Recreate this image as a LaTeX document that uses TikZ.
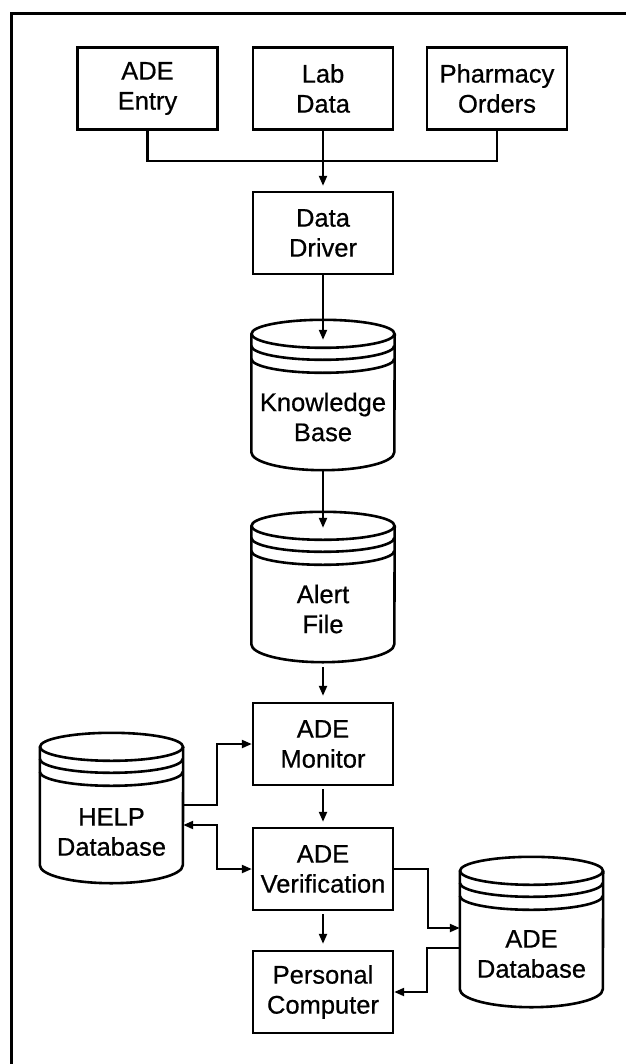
\documentclass[tikz,border=0pt]{standalone}
\usepackage{fontspec}
\setmainfont[FakeBold=0.6]{Liberation Sans}
\usetikzlibrary{arrows.meta}
\tikzset{
  unit/.style={draw=black,line width=2.4pt,minimum width=140pt,minimum height=82pt,inner sep=0pt,align=center},
  store/.style={minimum width=143pt,minimum height=150pt,inner sep=0pt},
  storelabel/.style={align=center,inner sep=0pt},
  drum/.style={draw=black,line width=2.6pt},
  wire/.style={line width=2.1pt},
  feed/.style={wire,-{Triangle[length=10pt,width=8pt]}},
  twoway/.style={wire,{Triangle[length=10pt,width=8pt]}-{Triangle[length=10pt,width=8pt]}}
}
\begin{document}
\begin{tikzpicture}[x=1pt,y=-1pt,font=\fontsize{25.5}{30}\selectfont,line join=miter]
\useasboundingbox (0,0) rectangle (626,1064);
\draw[line width=3.2pt] (11.5,1064) -- (11.5,13.5) -- (626,13.5);
% sources
\node[unit] (entry) at (147.5,88.5) {ADE\\Entry};
\node[unit] (lab) at (323,88.5) {Lab\\Data};
\node[unit] (pharm) at (497,88.5) {Pharmacy\\Orders};
\node[unit] (driver) at (323,233) {Data\\Driver};
\coordinate (junction) at (323,161);
\draw[wire] (entry.south) |- (junction) -| (pharm.south);
\draw[feed,shorten >=5pt] (lab.south) -- (driver.north);
% knowledge base
\node[store] (kbase) at (323,395) {};
\draw[drum] ([yshift=-14pt]kbase.north) ellipse [x radius=71.5pt,y radius=14pt];
\draw[drum] ([yshift=-14pt]kbase.north west) -- ([yshift=18pt]kbase.south west) arc [start angle=180,end angle=360,x radius=71.5pt,y radius=18pt] -- ([yshift=-14pt]kbase.north east);
\draw[drum] ([yshift=-26pt]kbase.north west) arc [start angle=180,end angle=360,x radius=71.5pt,y radius=14pt];
\draw[drum] ([yshift=-39pt]kbase.north west) arc [start angle=180,end angle=360,x radius=71.5pt,y radius=14pt];
\node[storelabel] (kbase-t) at ([yshift=-22pt]kbase.center) {Knowledge\\Base};
% alert file
\node[store] (alert) at (323,587) {};
\draw[drum] ([yshift=-14pt]alert.north) ellipse [x radius=71.5pt,y radius=14pt];
\draw[drum] ([yshift=-14pt]alert.north west) -- ([yshift=18pt]alert.south west) arc [start angle=180,end angle=360,x radius=71.5pt,y radius=18pt] -- ([yshift=-14pt]alert.north east);
\draw[drum] ([yshift=-26pt]alert.north west) arc [start angle=180,end angle=360,x radius=71.5pt,y radius=14pt];
\draw[drum] ([yshift=-39pt]alert.north west) arc [start angle=180,end angle=360,x radius=71.5pt,y radius=14pt];
\node[storelabel] (alert-t) at ([yshift=-22pt]alert.center) {Alert\\File};
% help database
\node[store] (helpdb) at (111.5,808) {};
\draw[drum] ([yshift=-14pt]helpdb.north) ellipse [x radius=71.5pt,y radius=14pt];
\draw[drum] ([yshift=-14pt]helpdb.north west) -- ([yshift=18pt]helpdb.south west) arc [start angle=180,end angle=360,x radius=71.5pt,y radius=18pt] -- ([yshift=-14pt]helpdb.north east);
\draw[drum] ([yshift=-26pt]helpdb.north west) arc [start angle=180,end angle=360,x radius=71.5pt,y radius=14pt];
\draw[drum] ([yshift=-39pt]helpdb.north west) arc [start angle=180,end angle=360,x radius=71.5pt,y radius=14pt];
\node[storelabel] (helpdb-t) at ([yshift=-24pt]helpdb.center) {HELP\\Database};
% ade database
\node[store] (adedb) at (531.5,932) {};
\draw[drum] ([yshift=-14pt]adedb.north) ellipse [x radius=71.5pt,y radius=14pt];
\draw[drum] ([yshift=-14pt]adedb.north west) -- ([yshift=18pt]adedb.south west) arc [start angle=180,end angle=360,x radius=71.5pt,y radius=18pt] -- ([yshift=-14pt]adedb.north east);
\draw[drum] ([yshift=-26pt]adedb.north west) arc [start angle=180,end angle=360,x radius=71.5pt,y radius=14pt];
\draw[drum] ([yshift=-39pt]adedb.north west) arc [start angle=180,end angle=360,x radius=71.5pt,y radius=14pt];
\node[storelabel] (adedb-t) at ([yshift=-22pt]adedb.center) {ADE\\Database};
% monitoring
\node[unit] (monitor) at (323,744) {ADE\\Monitor};
\node[unit] (verif) at (323,869) {ADE\\Verification};
\node[unit] (pc) at (323,992) {Personal\\Computer};
\draw[feed] (driver.south) -- ([yshift=-20pt]kbase.north);
\draw[feed] (kbase.south) -- ([yshift=-16pt]alert.north);
\draw[feed,shorten <=5pt,shorten >=6pt] (alert.south) -- (monitor.north);
\draw[feed,shorten <=3pt,shorten >=5pt] (monitor.south) -- (verif.north);
\draw[feed,shorten <=3pt,shorten >=6pt] (verif.south) -- (pc.north);
\draw[feed] ([yshift=3pt]helpdb.east) -- ++(34,0) |- (monitor.west);
\draw[twoway] ([yshift=-17pt]helpdb.east) -- ++(34,0) |- (verif.west);
\draw[feed] (verif.east) -- ++(34,0) |- ([yshift=4pt]adedb.west);
\draw[feed] ([yshift=-16pt]adedb.west) -- ++(-33,0) |- (pc.east);
\end{tikzpicture}
\end{document}
